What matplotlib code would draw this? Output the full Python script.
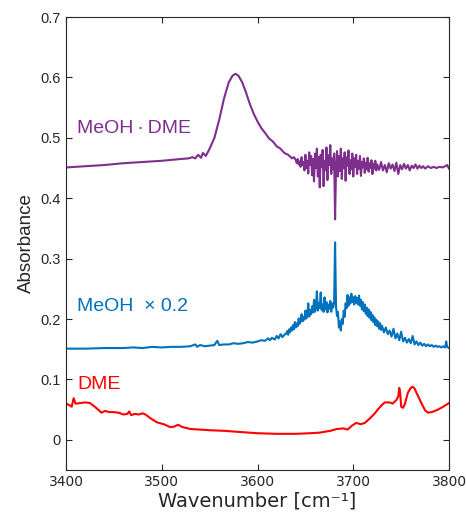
import matplotlib
matplotlib.use("Agg")
import matplotlib.pyplot as plt

# MeOH.DME band (purple)
wn_dimer = ([3400, 3420, 3440, 3460, 3480, 3500, 3520, 3528, 3532, 3535, 3538, 3541, 3543, 3546,
             3550, 3555, 3560, 3565, 3570, 3574, 3577, 3580, 3584, 3588, 3592, 3596, 3600, 3604,
             3608, 3612, 3616, 3620, 3624, 3628, 3632, 3636, 3638]
            + list(range(3640, 3726))
            + [3727, 3729, 3731, 3733, 3735, 3737, 3739, 3741, 3743, 3745, 3747, 3749, 3751, 3753,
               3755, 3757, 3759, 3761, 3763, 3765, 3767, 3769, 3771, 3773, 3775, 3778, 3781, 3784,
               3787, 3790, 3793, 3796, 3798, 3800])
abs_dimer = ([0.451, 0.453, 0.455, 0.458, 0.460, 0.462, 0.465, 0.466, 0.468, 0.466, 0.472, 0.467, 0.475, 0.470,
              0.482, 0.500, 0.530, 0.565, 0.592, 0.603, 0.606, 0.603, 0.592, 0.575, 0.556, 0.540, 0.527, 0.516,
              0.508, 0.499, 0.494, 0.486, 0.482, 0.475, 0.472, 0.466, 0.468]
             + [0.463, 0.458, 0.465, 0.456, 0.461, 0.452, 0.468, 0.455, 0.460, 0.446,
                0.472, 0.450, 0.462, 0.441, 0.476, 0.455, 0.470, 0.438, 0.465, 0.428,
                0.474, 0.450, 0.482, 0.436, 0.468, 0.418, 0.472, 0.452, 0.480, 0.420,
                0.462, 0.447, 0.484, 0.430, 0.471, 0.455, 0.488, 0.440, 0.466, 0.448,
                0.474, 0.365, 0.452, 0.478, 0.436, 0.470, 0.445, 0.482, 0.432, 0.466,
                0.450, 0.476, 0.429, 0.468, 0.454, 0.479, 0.440, 0.463, 0.448, 0.474,
                0.436, 0.466, 0.452, 0.472, 0.440, 0.462, 0.449, 0.470, 0.437, 0.460,
                0.451, 0.466, 0.442, 0.459, 0.448, 0.467, 0.444, 0.458, 0.450, 0.463,
                0.440, 0.457, 0.449, 0.462, 0.446, 0.456]
             + [0.447, 0.460, 0.446, 0.455, 0.443, 0.458, 0.449, 0.456, 0.445, 0.459, 0.440, 0.455, 0.448, 0.457,
                0.449, 0.455, 0.446, 0.454, 0.450, 0.456, 0.449, 0.454, 0.450, 0.453, 0.449, 0.453, 0.450, 0.452,
                0.450, 0.452, 0.451, 0.453, 0.455, 0.449])

# MeOH band x 0.2 (blue)
wn_meoh = ([3400, 3420, 3440, 3460, 3470, 3480, 3490, 3500, 3510, 3520, 3530, 3535, 3537, 3540, 3545,
            3550, 3555, 3558, 3560, 3565, 3570, 3575, 3580, 3585, 3590, 3595, 3600, 3604, 3608, 3611,
            3613, 3615, 3618, 3620, 3622, 3624, 3626, 3628]
           + list(range(3630, 3731))
           + [3732, 3734, 3736, 3738, 3740, 3742, 3744, 3746, 3748, 3750, 3752, 3754, 3756, 3758, 3760,
              3762, 3764, 3766, 3768, 3770, 3772, 3774, 3776, 3778, 3780, 3782, 3784, 3786, 3788, 3790,
              3792, 3794, 3796, 3797, 3798, 3800])
abs_meoh = ([0.151, 0.151, 0.152, 0.152, 0.153, 0.152, 0.154, 0.153, 0.154, 0.154, 0.155, 0.158, 0.154, 0.157, 0.155,
             0.156, 0.157, 0.164, 0.157, 0.158, 0.158, 0.160, 0.159, 0.160, 0.162, 0.161, 0.163, 0.165, 0.164, 0.168,
             0.165, 0.169, 0.166, 0.172, 0.168, 0.175, 0.170, 0.174]
            + [0.176, 0.180, 0.174, 0.183, 0.178, 0.186, 0.181, 0.190, 0.183, 0.195,
               0.186, 0.193, 0.188, 0.201, 0.192, 0.197, 0.208, 0.196, 0.203, 0.199,
               0.214, 0.201, 0.209, 0.226, 0.204, 0.215, 0.208, 0.221, 0.211, 0.232,
               0.212, 0.219, 0.246, 0.214, 0.226, 0.218, 0.244, 0.215, 0.224, 0.212,
               0.236, 0.216, 0.228, 0.211, 0.224, 0.217, 0.230, 0.212, 0.226, 0.219,
               0.228, 0.327, 0.220, 0.205, 0.212, 0.186, 0.196, 0.181, 0.200, 0.192,
               0.214, 0.204, 0.226, 0.218, 0.240, 0.222, 0.236, 0.226, 0.242, 0.228,
               0.236, 0.224, 0.238, 0.227, 0.235, 0.224, 0.239, 0.222, 0.232, 0.216,
               0.228, 0.213, 0.224, 0.209, 0.219, 0.205, 0.216, 0.202, 0.212, 0.198,
               0.207, 0.195, 0.203, 0.190, 0.199, 0.188, 0.196, 0.184, 0.193, 0.182,
               0.189]
            + [0.178, 0.186, 0.175, 0.181, 0.171, 0.184, 0.168, 0.176, 0.165, 0.179, 0.163, 0.169, 0.161, 0.167, 0.160,
               0.172, 0.158, 0.163, 0.157, 0.161, 0.156, 0.159, 0.155, 0.158, 0.155, 0.157, 0.154, 0.156, 0.154, 0.155,
               0.153, 0.155, 0.153, 0.163, 0.154, 0.152])

# DME background (red)
wn_dme = [3400, 3403, 3406, 3408, 3410, 3415, 3420, 3425, 3430, 3435, 3437, 3441, 3445, 3449, 3455,
          3460, 3464, 3466, 3468, 3472, 3476, 3480, 3483, 3488, 3495, 3502, 3509, 3513, 3517, 3522,
          3530, 3540, 3550, 3565, 3582, 3600, 3620, 3640, 3655, 3665, 3676, 3683, 3690, 3694, 3699,
          3703, 3708, 3712, 3717, 3722, 3726, 3730, 3733, 3738, 3741, 3745, 3747, 3748, 3749, 3750,
          3752, 3754, 3757, 3760, 3762, 3764, 3766, 3769, 3772, 3775, 3778, 3782, 3787, 3793, 3800]
abs_dme = [0.060, 0.058, 0.055, 0.069, 0.060, 0.061, 0.062, 0.061, 0.055, 0.048, 0.045, 0.048, 0.046, 0.046, 0.045,
           0.042, 0.043, 0.047, 0.041, 0.043, 0.042, 0.044, 0.042, 0.036, 0.029, 0.026, 0.021, 0.022, 0.025, 0.021,
           0.018, 0.017, 0.016, 0.015, 0.013, 0.011, 0.010, 0.010, 0.011, 0.012, 0.015, 0.018, 0.019, 0.017, 0.024,
           0.028, 0.026, 0.028, 0.035, 0.043, 0.051, 0.058, 0.062, 0.062, 0.060, 0.066, 0.072, 0.086, 0.078, 0.055,
           0.053, 0.060, 0.078, 0.086, 0.088, 0.085, 0.078, 0.068, 0.058, 0.049, 0.045, 0.046, 0.049, 0.054, 0.061]

xticks = [3400, 3500, 3600, 3700, 3800]
yticks = [0, 0.1, 0.2, 0.3, 0.4, 0.5, 0.6, 0.7]
ytick_labels = ['0', '0.1', '0.2', '0.3', '0.4', '0.5', '0.6', '0.7']

purple = '#7E2F8E'
blue = '#0072BD'
red = '#FF0000'
grey = '#262626'

fig = plt.figure(figsize=(4.66, 5.16), dpi=100)
ax = fig.add_axes([0.1416, 0.089, 0.822, 0.878])

ax.plot(wn_dimer, abs_dimer, color=purple, lw=1.5)
ax.plot(wn_meoh, abs_meoh, color=blue, lw=1.5)
ax.plot(wn_dme, abs_dme, color=red, lw=1.5)

ax.set_xlim(3400, 3800)
ax.set_ylim(-0.05, 0.7)
ax.set_xticks(xticks)
ax.set_yticks(yticks)
ax.set_yticklabels(ytick_labels, family='Liberation Sans', fontsize=10.5, color=grey)
for lab in ax.get_xticklabels():
    lab.set_fontsize(10)
    lab.set_color(grey)
ax.tick_params(direction='in', top=True, right=True, length=4, width=0.8, color=grey)
for s in ax.spines.values():
    s.set_color(grey)
    s.set_linewidth(0.8)

ax.set_xlabel('Wavenumber [cm\u207b\u00b9]', fontsize=14, color=grey, labelpad=2)
ax.set_ylabel('Absorbance', family='Liberation Sans', fontsize=13.5, color=grey, labelpad=4)

ax.text(3412, 0.516, 'MeOH\u2009\u00b7\u2009DME', color=purple, fontsize=14,
        family='Liberation Sans', va='center')
ax.text(3412, 0.220, 'MeOH  \u00d7 0.2', color=blue, fontsize=14,
        family='Liberation Sans', va='center')
ax.text(3412, 0.091, 'DME', color=red, fontsize=14, family='Liberation Sans', va='center')

fig.savefig('out.png', dpi=100)
